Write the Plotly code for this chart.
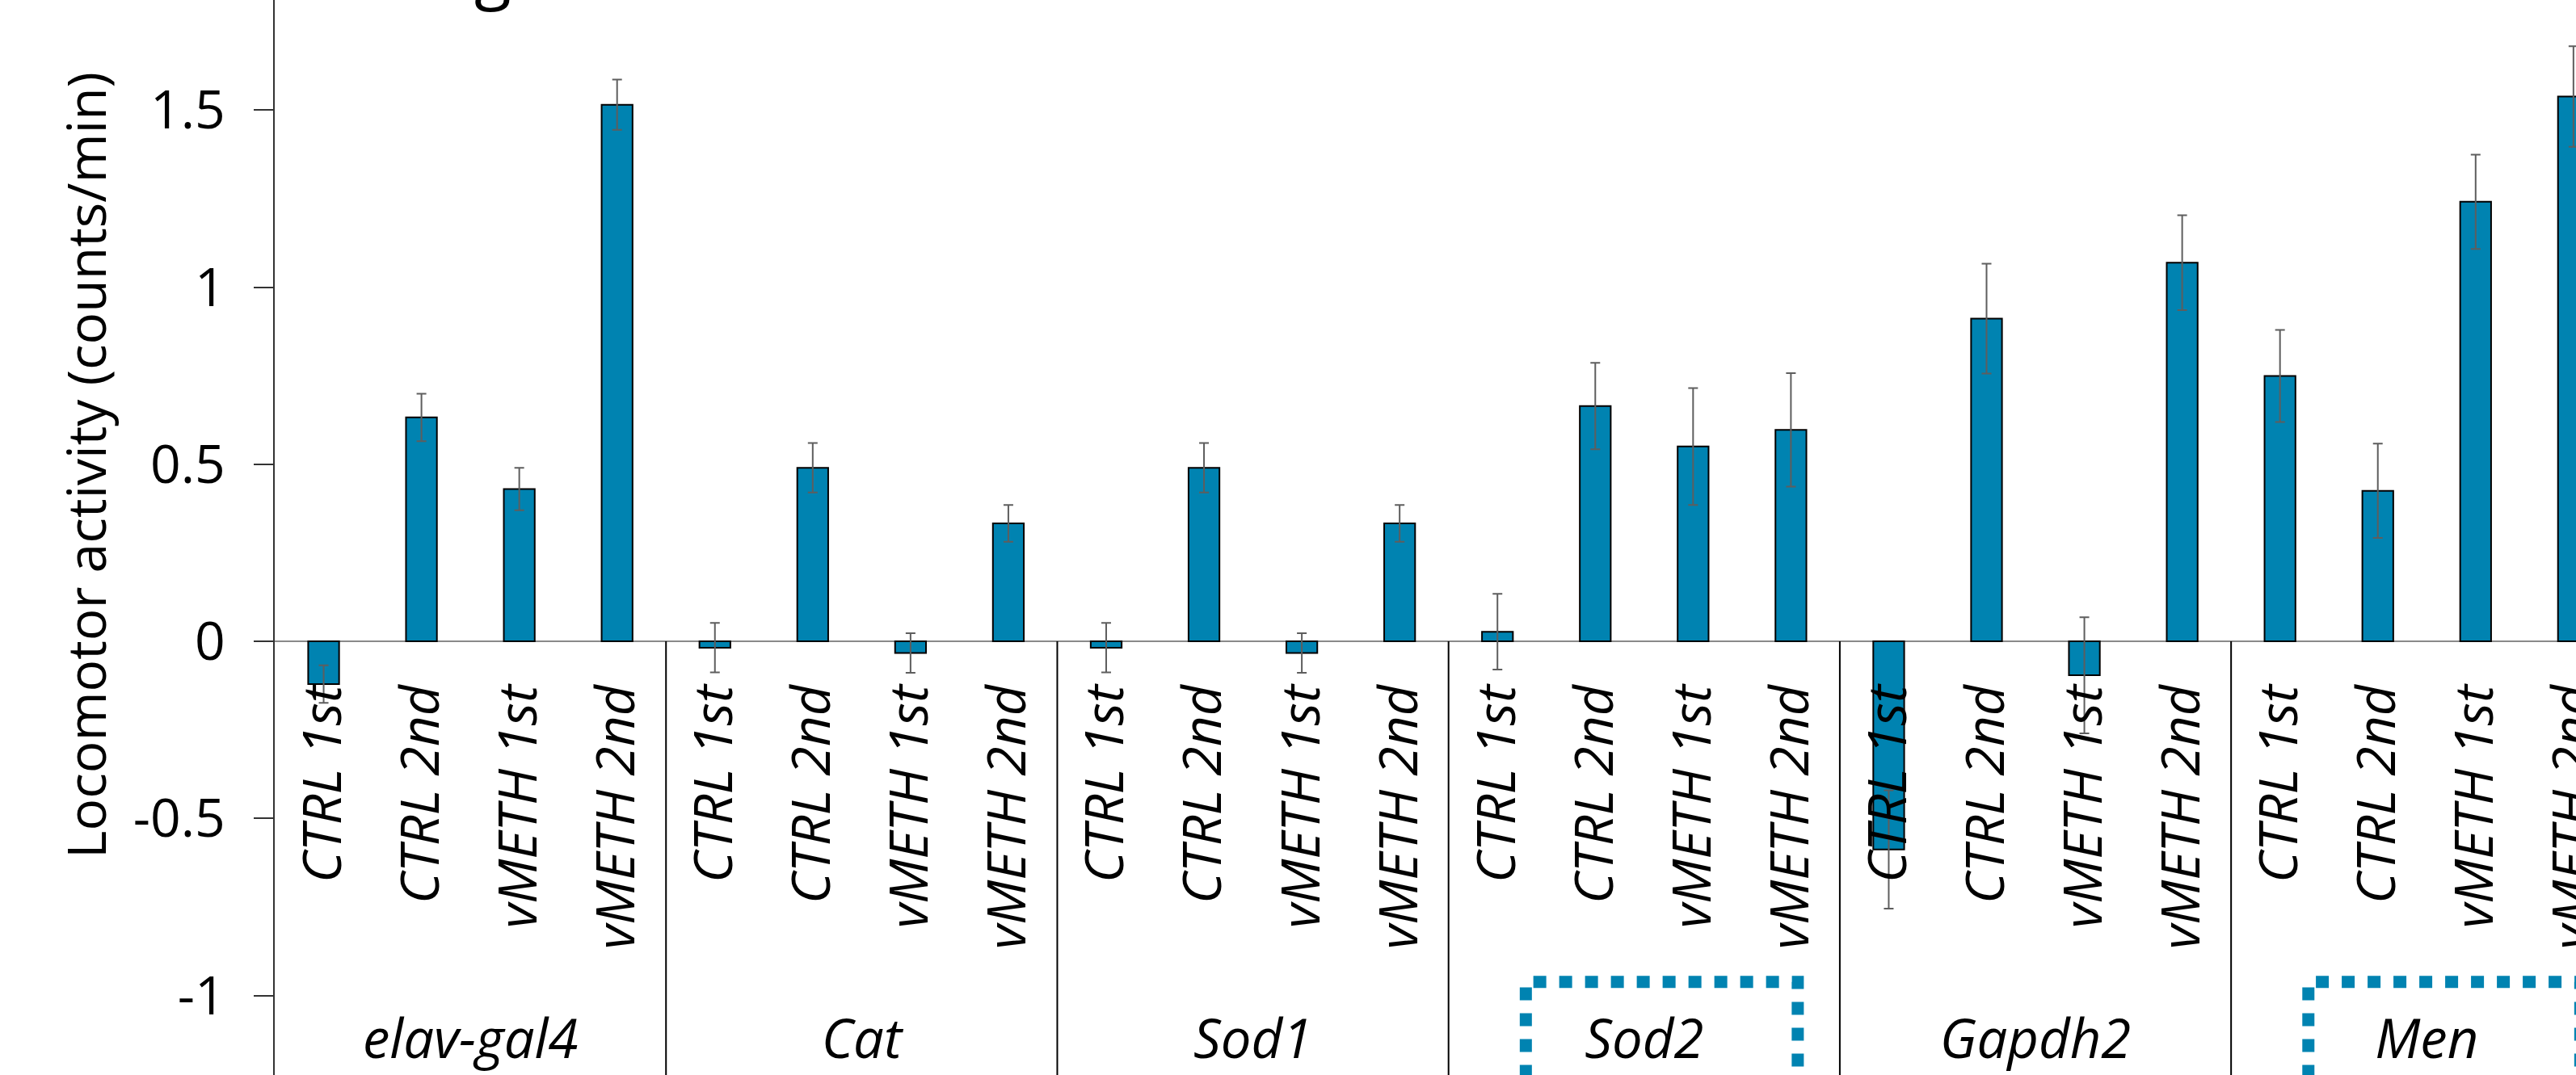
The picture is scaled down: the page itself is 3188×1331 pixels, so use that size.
import plotly.graph_objects as go

# ---------------- data ----------------
groups = ["elav-gal4", "Cat", "Sod1", "Sod2", "Gapdh2", "Men"]
conditions = ["CTRL 1st", "CTRL 2nd", "vMETH 1st", "vMETH 2nd"]

elav_gal4_mean = [-0.121, 0.632, 0.430, 1.515]
elav_gal4_err = [0.053, 0.067, 0.060, 0.071]
cat_mean = [-0.018, 0.490, -0.033, 0.333]
cat_err = [0.070, 0.070, 0.056, 0.052]
sod1_mean = [-0.018, 0.490, -0.033, 0.333]
sod1_err = [0.070, 0.070, 0.056, 0.052]
sod2_mean = [0.027, 0.664, 0.550, 0.597]
sod2_err = [0.107, 0.122, 0.165, 0.160]
gapdh2_mean = [-0.588, 0.911, -0.096, 1.069]
gapdh2_err = [0.167, 0.155, 0.164, 0.134]
men_mean = [0.749, 0.425, 1.241, 1.538]
men_err = [0.130, 0.133, 0.133, 0.142]

highlighted_groups = ["Sod2", "Men"]
y_title = "Locomotor activity (counts/min)"
y_ticks = [-1, -0.5, 0, 0.5, 1, 1.5]
y_tick_text = ["-1", "-0.5", "0", "0.5", "1", "1.5"]

# ---------------- build ----------------
all_means = elav_gal4_mean + cat_mean + sod1_mean + sod2_mean + gapdh2_mean + men_mean
all_errs = elav_gal4_err + cat_err + sod1_err + sod2_err + gapdh2_err + men_err
n_cond = len(conditions)
x_idx = list(range(len(groups) * n_cond))
tick_text = conditions * len(groups)
group_centers = [g * n_cond + (n_cond - 1) / 2 for g in range(len(groups))]

BLUE = "#0083B1"
FONT = "Open Sans"

W, H = 3188, 1331
L_MARGIN = 340
Y_TOP, Y_BOT = 1.8107, -1.2246
X_MIN, X_MAX = -0.5, 23.026

fig = go.Figure()
fig.add_trace(go.Bar(
    x=x_idx, y=all_means,
    marker=dict(color=BLUE, line=dict(color="black", width=2)),
    error_y=dict(type="data", array=all_errs, visible=True,
                 color="#5e5e5e", thickness=2, width=6),
    showlegend=False, hoverinfo="skip",
))
# invisible trace carrying the group-label axis
fig.add_trace(go.Scatter(x=group_centers, y=[None] * len(groups), xaxis="x2",
                         mode="markers", showlegend=False, hoverinfo="skip"))

shapes = []
# group dividers below the zero line
for g in range(1, len(groups)):
    xs = g * n_cond - 0.5
    shapes.append(dict(type="line", xref="x", yref="y", x0=xs, x1=xs, y0=Y_BOT, y1=0,
                       line=dict(color="black", width=2), layer="above"))
# dotted highlight boxes around group labels
for name in highlighted_groups:
    c = group_centers[groups.index(name)]
    x0, x1 = c - 1.21, c + 1.57
    yt, yb = -0.962, Y_BOT - 0.3
    shapes.append(dict(type="path", xref="x", yref="y",
                       path=f"M {x0},{yb} L {x0},{yt} L {x1},{yt} L {x1},{yb}",
                       line=dict(color=BLUE, width=15, dash="16px,16px"), layer="above"))

fig.update_layout(
    width=W, height=H,
    margin=dict(l=L_MARGIN, r=0, t=0, b=0, pad=0, autoexpand=False),
    plot_bgcolor="white", paper_bgcolor="white",
    bargap=0.684,
    shapes=shapes,
    xaxis=dict(
        range=[X_MIN, X_MAX], tickmode="array", tickvals=x_idx, ticktext=tick_text,
        tickangle=-90, anchor="free", position=(H - 794) / H, automargin=False,
        showline=False, showgrid=False, zeroline=False, ticks="",
        tickfont=dict(family=FONT, size=66, color="black", style="italic"),
        ticklabelstandoff=40, ticklabeloverflow="allow",
    ),
    xaxis2=dict(
        range=[X_MIN, X_MAX], overlaying="x", anchor="free", position=0, automargin=False,
        tickmode="array", tickvals=group_centers, ticktext=groups, tickangle=0,
        showline=False, showgrid=False, zeroline=False, ticks="",
        ticklabelposition="inside", ticklabeloverflow="allow", ticklabelstandoff=5,
        tickfont=dict(family=FONT, size=67, color="black", style="italic"),
    ),
    yaxis=dict(
        range=[Y_BOT, Y_TOP], tickmode="array", tickvals=y_ticks, ticktext=y_tick_text,
        automargin=False,
        showline=True, linecolor="#333333", linewidth=2,
        ticks="outside", ticklen=24, tickwidth=2, tickcolor="#333333",
        showgrid=False, zeroline=True, zerolinecolor="#8a8a8a", zerolinewidth=2,
        tickfont=dict(family=FONT, size=66, color="black"),
        ticklabelstandoff=22,
    ),
    annotations=[
        dict(text=y_title, xref="paper", yref="paper",
             x=(105 - L_MARGIN) / (W - L_MARGIN), y=(H - 576) / H,
             xanchor="center", yanchor="middle", textangle=-90, showarrow=False,
             font=dict(family=FONT, size=66, color="black")),
        dict(text="g", xref="paper", yref="paper",
             x=(610 - L_MARGIN) / (W - L_MARGIN), y=1, xanchor="center", yanchor="bottom",
             yshift=-22, showarrow=False,
             font=dict(family=FONT, size=84, color="black")),
    ],
)

fig.write_html("out.html")
